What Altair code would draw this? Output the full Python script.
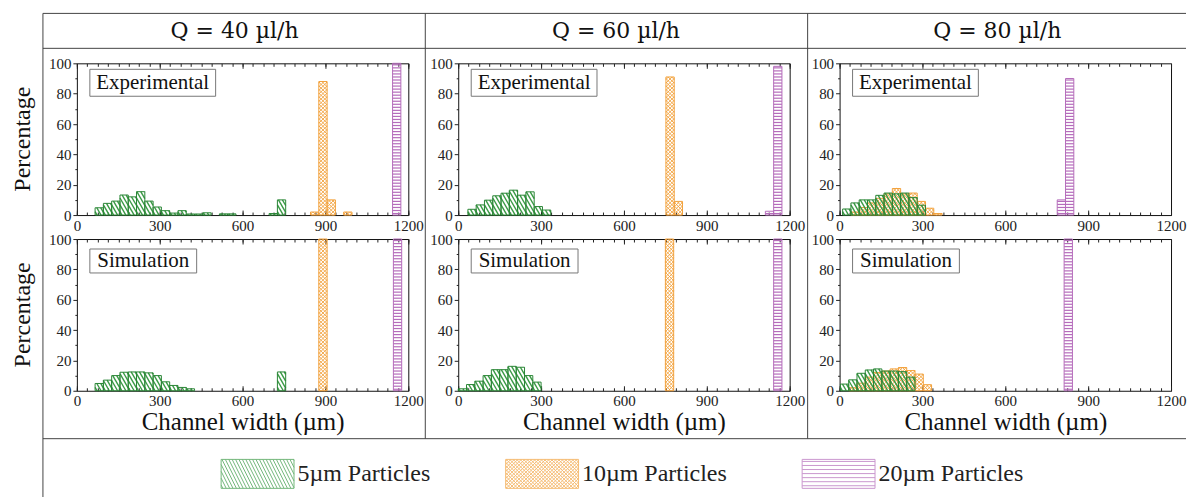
import altair as alt
import pandas as pd

# ---------------- data ----------------
P5 = "5µm Particles"
P10 = "10µm Particles"
P20 = "20µm Particles"
PARTICLES = [P5, P10, P20]
FLOWS = ["Q = 40 µl/h", "Q = 60 µl/h", "Q = 80 µl/h"]
KINDS = ["Experimental", "Simulation"]

# bin centres (µm) and percentage of particles
E40_P5_X = [81, 111, 141, 171, 201, 231, 261, 291, 321, 351, 381, 411, 441, 471, 531, 561, 711, 741]
E40_P5_Y = [4.8, 7.7, 9.2, 13.2, 12.0, 15.4, 9.2, 5.3, 2.9, 1.3, 2.9, 0.7, 0.7, 1.5, 0.8, 0.8, 1.0, 10.0]
E40_P10_X = [861, 891, 921, 981]
E40_P10_Y = [2.0, 88.0, 10.0, 2.0]
E40_P20_X = [1158]
E40_P20_Y = [100.0]

E60_P5_X = [50, 80, 110, 140, 170, 200, 230, 260, 290, 320]
E60_P5_Y = [3.8, 6.7, 9.8, 12.7, 14.4, 16.4, 13.1, 15.3, 5.6, 3.3]
E60_P10_X = [767, 797]
E60_P10_Y = [91.0, 9.0]
E60_P20_X = [1127, 1157]
E60_P20_Y = [2.5, 98.0]

E80_P5_X = [26, 56, 86, 116, 146, 176, 206, 236, 266, 296]
E80_P5_Y = [4.0, 8.0, 10.0, 10.0, 13.0, 14.5, 14.0, 14.5, 11.5, 6.5]
E80_P10_X = [56, 86, 116, 146, 176, 206, 236, 266, 296, 326, 356]
E80_P10_Y = [2.0, 5.0, 8.0, 11.0, 14.0, 17.5, 14.0, 14.5, 9.0, 4.5, 1.0]
E80_P20_X = [803, 833]
E80_P20_Y = [10.0, 90.0]

S40_P5_X = [81, 111, 141, 171, 201, 231, 261, 291, 321, 351, 381, 411, 741]
S40_P5_Y = [4.8, 7.0, 10.0, 12.2, 12.4, 12.4, 11.8, 10.0, 5.9, 3.5, 2.2, 1.3, 12.4]
S40_P10_X = [891]
S40_P10_Y = [100.0]
S40_P20_X = [1161]
S40_P20_Y = [100.0]

S60_P5_X = [15, 45, 75, 105, 135, 165, 195, 225, 255, 285]
S60_P5_Y = [1.3, 4.1, 6.3, 10.0, 13.9, 13.9, 16.1, 15.5, 10.0, 5.7]
S60_P10_X = [765]
S60_P10_Y = [100.0]
S60_P20_X = [1157]
S60_P20_Y = [100.0]

S80_P5_X = [18, 48, 78, 108, 138, 168, 198, 228, 258]
S80_P5_Y = [4.4, 7.2, 11.5, 13.7, 14.4, 13.0, 13.0, 12.6, 9.0]
S80_P10_X = [48, 78, 108, 138, 168, 198, 228, 258, 288, 318]
S80_P10_Y = [2.0, 5.0, 9.0, 12.0, 13.0, 14.4, 15.3, 13.3, 11.0, 4.0]
S80_P20_X = [828]
S80_P20_Y = [100.0]

SERIES = {
    "E40": [(P5, E40_P5_X, E40_P5_Y), (P10, E40_P10_X, E40_P10_Y), (P20, E40_P20_X, E40_P20_Y)],
    "E60": [(P5, E60_P5_X, E60_P5_Y), (P10, E60_P10_X, E60_P10_Y), (P20, E60_P20_X, E60_P20_Y)],
    "E80": [(P5, E80_P5_X, E80_P5_Y), (P10, E80_P10_X, E80_P10_Y), (P20, E80_P20_X, E80_P20_Y)],
    "S40": [(P5, S40_P5_X, S40_P5_Y), (P10, S40_P10_X, S40_P10_Y), (P20, S40_P20_X, S40_P20_Y)],
    "S60": [(P5, S60_P5_X, S60_P5_Y), (P10, S60_P10_X, S60_P10_Y), (P20, S60_P20_X, S60_P20_Y)],
    "S80": [(P5, S80_P5_X, S80_P5_Y), (P10, S80_P10_X, S80_P10_Y), (P20, S80_P20_X, S80_P20_Y)],
}
rows = []
for key, lst in SERIES.items():
    for part, xs_, ys_ in lst:
        for cx, hy in zip(xs_, ys_):
            rows.append({"key": key, "particle": part, "c": cx, "h": hy})
df = pd.DataFrame(rows)

# ---------------- styling ----------------
W, H = 332, 152
BW = 30.0
XS = alt.Scale(domain=[0, 1200], nice=False, zero=False)
YS = alt.Scale(domain=[0, 100], nice=False)
SERIF = "Liberation Serif"
HEAD = "DejaVu Serif"
GREEN = "#3a9a45"
GREEN_D = "#2a8636"
ORANGE = "#f2a23c"
PURPLE = "#b56cbb"
LINE = "#444444"
ONE = alt.Data(values=[{"k": 0}])

PXX = W / 1200.0
PXY = H / 100.0
S_G = 1.73 * PXX / PXY      # ~60 degree hatch
S_O = 1.0 * PXX / PXY       # 45 degree cross-hatch


def bars_of(key, part):
    return alt.Chart(df).transform_filter(
        f"datum.key == '{key}' && datum.particle == '{part}'"
    ).transform_calculate(x0=f"datum.c - {BW / 2}").transform_calculate(
        x1=f"datum.c + {BW / 2}").transform_calculate(z0="0")


def enc_seg(ch):
    return ch.encode(
        x=alt.X("xa:Q", scale=XS, axis=None), x2="xb:Q",
        y=alt.Y("ya:Q", scale=YS, axis=None), y2="yb:Q")


def outline(key, part, color):
    return bars_of(key, part).mark_rect(fillOpacity=0, stroke=color, strokeWidth=1).encode(
        x=alt.X("x0:Q", scale=XS, axis=None), x2="x1:Q",
        y=alt.Y("h:Q", scale=YS, axis=None), y2="z0:Q")


def hatch_down(key, part, s, step, color, sw):
    span = s * BW
    ch = bars_of(key, part).transform_calculate(
        o=f"sequence({step / 2}, datum.h + {span}, {step})"
    ).transform_flatten(["o"]).transform_calculate(
        xa=f"max(datum.x0, datum.x0 + (datum.o - datum.h) / {s})"
    ).transform_calculate(
        xb=f"min(datum.x1, datum.x0 + datum.o / {s})"
    ).transform_calculate(
        ya=f"datum.o - {s} * (datum.xa - datum.x0)"
    ).transform_calculate(
        yb=f"datum.o - {s} * (datum.xb - datum.x0)"
    ).transform_filter("datum.xb - datum.xa > 0.2").mark_rule(color=color, strokeWidth=sw)
    return enc_seg(ch)


def hatch_up(key, part, s, step, color, sw):
    span = s * BW
    ch = bars_of(key, part).transform_calculate(
        o=f"sequence({-span + step / 2}, datum.h, {step})"
    ).transform_flatten(["o"]).transform_calculate(
        xa=f"max(datum.x0, datum.x0 - datum.o / {s})"
    ).transform_calculate(
        xb=f"min(datum.x1, datum.x0 + (datum.h - datum.o) / {s})"
    ).transform_calculate(
        ya=f"datum.o + {s} * (datum.xa - datum.x0)"
    ).transform_calculate(
        yb=f"datum.o + {s} * (datum.xb - datum.x0)"
    ).transform_filter("datum.xb - datum.xa > 0.2").mark_rule(color=color, strokeWidth=sw)
    return enc_seg(ch)


def hatch_flat(key, part, step, color, sw):
    return bars_of(key, part).transform_calculate(
        o=f"sequence({step / 2}, datum.h, {step})"
    ).transform_flatten(["o"]).mark_rule(color=color, strokeWidth=sw).encode(
        x=alt.X("x0:Q", scale=XS, axis=None), x2="x1:Q",
        y=alt.Y("o:Q", scale=YS, axis=None))


X_MAJ = [0, 300, 600, 900, 1200]
X_MIN = [i * 37.5 for i in range(33)]
Y_MAJ = [0, 20, 40, 60, 80, 100]
Y_MIN = [10, 30, 50, 70, 90]


def axis_layer(key, xaxis, yaxis):
    return alt.Chart(df).transform_filter(f"datum.key == '{key}'").mark_point(opacity=0).encode(
        x=alt.X("c:Q", scale=XS, axis=xaxis), y=alt.Y("h:Q", scale=YS, axis=yaxis))


def txt(text, x, y, size, angle=0, color="#111111", font=SERIF):
    kw = dict(text=text, font=font, fontSize=size, align="center", baseline="middle", color=color)
    if angle:
        kw["angle"] = angle
    return alt.Chart(ONE).mark_text(**kw).encode(x=alt.value(x), y=alt.value(y))


def hline(x1, x2, y):
    return alt.Chart(ONE).mark_rule(color=LINE, strokeWidth=1).encode(
        x=alt.value(x1), x2=alt.value(x2), y=alt.value(y))


def vline(x, y1, y2):
    return alt.Chart(ONE).mark_rule(color=LINE, strokeWidth=1).encode(
        x=alt.value(x), y=alt.value(y1), y2=alt.value(y2))


# legend symbols: outlined hatched boxes as custom paths (1 unit = 14.5 px)
def legend_path(kind):
    hw, hh = 73.0 / 29.0, 1.0
    parts = [f"M{-hw:.3f},{-hh:.3f}H{hw:.3f}V{hh:.3f}H{-hw:.3f}Z"]

    def diag(d, step, down):
        xt = -hw - d + step / 2
        while xt < hw:
            t0 = max(0.0, (-hw - xt) / d)
            t1 = min(1.0, (hw - xt) / d)
            if t1 > t0:
                ya = -hh + 2 * hh * t0 if down else hh - 2 * hh * t0
                yb = -hh + 2 * hh * t1 if down else hh - 2 * hh * t1
                parts.append(f"M{xt + d * t0:.3f},{ya:.3f}L{xt + d * t1:.3f},{yb:.3f}")
            xt += step

    if kind == "green":
        diag(1.0, 0.235, True)
    elif kind == "orange":
        diag(2.0, 0.24, True)
        diag(2.0, 0.24, False)
    else:
        y = -hh + 0.14
        while y < hh:
            parts.append(f"M{-hw:.3f},{y:.3f}H{hw:.3f}")
            y += 0.28
    return "".join(parts)


LEG = alt.Legend(
    orient="none", legendX=166, legendY=396, direction="horizontal", title=None,
    symbolSize=841, symbolStrokeWidth=1, labelFont=SERIF, labelFontSize=24,
    labelColor="#222222", labelOffset=25, labelLimit=400, columnPadding=72, padding=0,
)


def panel(col, row):
    key = ("E" if row == 0 else "S") + ["40", "60", "80"][col]
    bottom = row == 1
    xaxis_major = alt.Axis(
        orient="bottom", values=X_MAJ, format="d", tickSize=5, offset=-5, labelPadding=3, domain=False,
        grid=False, labelFlush=False, labelOverlap=False,
        title="Channel width (µm)" if bottom else None,
        titleFont=SERIF, titleFontSize=25, titleFontWeight="normal", titlePadding=1, titleColor="#111111")
    yaxis_major = alt.Axis(
        orient="left", values=Y_MAJ, format="d", tickSize=4, labelPadding=2, domain=False, grid=False,
        labelFlush=False, labelOverlap=False, title=None)
    layers = []
    if key == "E40":
        layers.append(alt.Chart(ONE).mark_rect(opacity=0).encode(
            x=alt.value(-76), x2=alt.value(1111), y=alt.value(-62), y2=alt.value(435)))
    layers += [
        hatch_down(key, P10, S_O, 2.4, ORANGE, 0.9),
        hatch_up(key, P10, S_O, 2.4, ORANGE, 0.9),
        outline(key, P10, ORANGE),
        hatch_down(key, P5, S_G, 4.5, GREEN, 1.4),
        outline(key, P5, GREEN_D),
        hatch_flat(key, P20, 2.0, PURPLE, 1.2),
        outline(key, P20, PURPLE),
        axis_layer(key, xaxis_major, yaxis_major),
        axis_layer(key,
                   alt.Axis(orient="bottom", values=X_MIN, tickSize=3, offset=-3, labels=False,
                            domain=False, grid=False, title=None),
                   alt.Axis(orient="left", values=Y_MIN, tickSize=2, labels=False,
                            domain=False, grid=False, title=None)),
        axis_layer(key,
                   alt.Axis(orient="top", values=X_MAJ, tickSize=5, offset=-5, labels=False,
                            domain=False, grid=False, title=None), None),
        axis_layer(key,
                   alt.Axis(orient="top", values=X_MIN, tickSize=3, offset=-3, labels=False,
                            domain=False, grid=False, title=None), None),
    ]
    # label box
    if row == 0:
        layers.append(alt.Chart(ONE).mark_rect(fill="white", stroke="#777777", strokeWidth=1).encode(
            x=alt.value(13), x2=alt.value(139), y=alt.value(6), y2=alt.value(33)))
        layers.append(txt(KINDS[0], 76, 20, 21))
        layers.append(txt(FLOWS[col], 158, -32, 22, font=HEAD))
    else:
        layers.append(alt.Chart(ONE).mark_rect(fill="white", stroke="#777777", strokeWidth=1).encode(
            x=alt.value(13), x2=alt.value(120), y=alt.value(10), y2=alt.value(34)))
        layers.append(txt(KINDS[1], 66.5, 22.5, 21))
    if col == 0:
        layers.append(txt("Percentage", -54, H / 2, 24, angle=270))
    if key == "E40":
        layers += [
            hline(-34, 1111, -50), hline(-34, 1111, -15), hline(-34, 1111, 376),
            vline(-34, -50, 435), vline(349, -50, 376), vline(732, -50, 376),
        ]
        layers.append(alt.Chart(df).transform_filter("false").mark_point(filled=False, strokeWidth=1).encode(
            color=alt.Color("particle:N", scale=alt.Scale(domain=PARTICLES, range=[GREEN, ORANGE, PURPLE]),
                            legend=LEG),
            shape=alt.Shape("particle:N", scale=alt.Scale(
                domain=PARTICLES,
                range=[legend_path("green"), legend_path("orange"), legend_path("purple")]),
                legend=LEG),
        ))
    return alt.layer(*layers).resolve_axis(x="independent", y="independent").properties(width=W, height=H)


panels = [panel(c, r) for r in range(2) for c in range(3)]
chart = alt.concat(
    *panels, columns=3, spacing=alt.RowColnumber(row=24, column=50), bounds="flush"
).properties(
    padding=0, background="white"
).configure_view(stroke="#111111", strokeWidth=1).configure_axis(
    labelFont=SERIF, labelFontSize=15, labelColor="#222222", tickColor="#222222",
    titleFont=SERIF, grid=False, domain=False,
)

chart.save("out.html", embed_options={"renderer": "svg", "actions": False})
